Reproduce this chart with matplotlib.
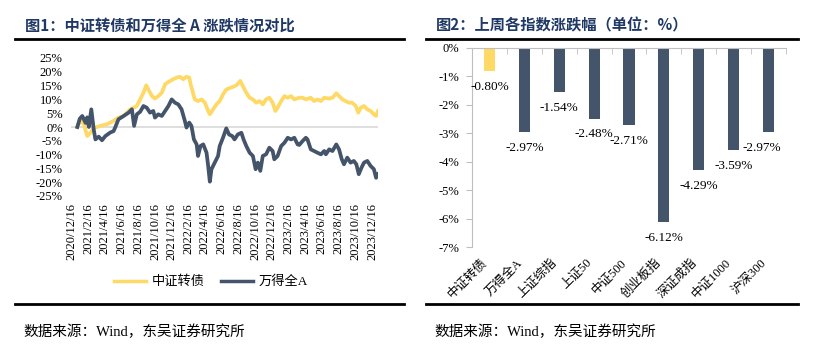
import numpy as np
import pandas as pd
import matplotlib.pyplot as plt
from matplotlib.lines import Line2D

# ---- figure 1: cumulative change, %
cb_dates = ['2021-01-06', '2021-01-18', '2021-01-30', '2021-02-11', '2021-02-23', '2021-03-07',
            '2021-03-19', '2021-03-31', '2021-04-24', '2021-05-18', '2021-06-05', '2021-06-24',
            '2021-07-18', '2021-08-11', '2021-08-23', '2021-09-04', '2021-09-14', '2021-09-22',
            '2021-10-05', '2021-10-16', '2021-10-28', '2021-11-10', '2021-11-22', '2021-12-04',
            '2021-12-16', '2022-01-03', '2022-01-15', '2022-01-27', '2022-02-08', '2022-02-18',
            '2022-02-23', '2022-03-02', '2022-03-10', '2022-03-22', '2022-04-04', '2022-04-16',
            '2022-04-28', '2022-05-04', '2022-05-16', '2022-05-28', '2022-06-09', '2022-06-21',
            '2022-07-03', '2022-07-21', '2022-08-09', '2022-08-23', '2022-09-01', '2022-09-14',
            '2022-09-26', '2022-10-08', '2022-10-20', '2022-11-01', '2022-11-13', '2022-11-25',
            '2022-12-07', '2022-12-19', '2022-12-29', '2023-01-06', '2023-01-19', '2023-01-31',
            '2023-02-12', '2023-02-24', '2023-03-08', '2023-03-26', '2023-04-07', '2023-04-19',
            '2023-05-07', '2023-05-19', '2023-05-31', '2023-06-13', '2023-06-25', '2023-07-13',
            '2023-07-25', '2023-08-08', '2023-08-18', '2023-08-30', '2023-09-11', '2023-09-23',
            '2023-10-05', '2023-10-18', '2023-10-27', '2023-11-05', '2023-11-17', '2023-11-29',
            '2023-12-11', '2023-12-23', '2023-12-31', '2024-01-07']
cb_values = [0.0, 2.5, 1.0, -3.3, -2.0, -0.5, 0.0, 0.4, 1.0, 2.2, 3.4, 4.0,
             6.4, 7.6, 10.0, 12.4, 15.1, 13.6, 11.2, 10.3, 11.2, 12.4, 15.5, 16.3,
             17.0, 17.9, 18.2, 17.3, 18.2, 17.9, 15.5, 13.0, 10.0, 9.4, 10.0, 8.8,
             5.8, 4.6, 6.4, 8.2, 9.4, 11.8, 13.6, 14.3, 15.1, 16.7, 14.9, 12.4,
             10.6, 10.0, 8.8, 9.4, 8.2, 10.0, 10.6, 8.8, 5.8, 7.0, 9.4, 11.2,
             10.6, 11.2, 10.0, 10.6, 10.6, 10.0, 10.6, 9.4, 10.0, 9.4, 10.6, 10.3,
             10.6, 12.2, 11.2, 10.0, 9.4, 8.8, 8.8, 7.6, 5.2, 7.0, 7.6, 6.4,
             5.8, 4.6, 4.0, 5.8]

wa_dates = ['2021-01-06', '2021-01-15', '2021-01-24', '2021-02-05', '2021-02-11', '2021-02-17',
            '2021-02-26', '2021-03-07', '2021-03-13', '2021-03-25', '2021-04-06', '2021-04-18',
            '2021-05-06', '2021-05-18', '2021-05-24', '2021-06-05', '2021-06-24', '2021-07-12',
            '2021-07-24', '2021-08-01', '2021-08-11', '2021-08-23', '2021-09-04', '2021-09-16',
            '2021-09-28', '2021-10-10', '2021-10-16', '2021-10-28', '2021-11-10', '2021-11-22',
            '2021-12-04', '2021-12-16', '2021-12-28', '2022-01-09', '2022-01-21', '2022-02-02',
            '2022-02-08', '2022-02-18', '2022-02-26', '2022-03-07', '2022-03-17', '2022-03-22',
            '2022-03-31', '2022-04-10', '2022-04-22', '2022-04-28', '2022-05-04', '2022-05-10',
            '2022-05-22', '2022-06-03', '2022-06-09', '2022-06-21', '2022-07-03', '2022-07-13',
            '2022-07-25', '2022-08-02', '2022-08-14', '2022-08-27', '2022-09-04', '2022-09-14',
            '2022-09-26', '2022-10-08', '2022-10-18', '2022-10-26', '2022-11-04', '2022-11-13',
            '2022-11-25', '2022-12-07', '2022-12-19', '2022-12-25', '2023-01-06', '2023-01-19',
            '2023-01-31', '2023-02-12', '2023-02-24', '2023-03-08', '2023-03-20', '2023-03-26',
            '2023-04-07', '2023-04-19', '2023-04-25', '2023-05-07', '2023-05-19', '2023-05-31',
            '2023-06-13', '2023-06-25', '2023-07-01', '2023-07-13', '2023-07-25', '2023-08-08',
            '2023-08-18', '2023-08-28', '2023-09-05', '2023-09-17', '2023-09-29', '2023-10-11',
            '2023-10-20', '2023-10-29', '2023-11-08', '2023-11-17', '2023-11-29', '2023-12-11',
            '2023-12-23', '2023-12-31', '2024-01-07']
wa_values = [0.0, 3.0, 4.0, 1.5, 3.5, 0.0, 6.4, -1.0, -4.5, -3.5, -4.8, -3.3,
             -2.0, -1.5, -0.2, 2.8, 4.0, 5.2, 6.4, 0.4, 4.6, 5.5, 7.6, 7.0,
             5.2, 5.8, 3.4, 4.6, 4.0, 5.8, 7.6, 10.0, 8.8, 8.2, 6.4, 2.2,
             -0.2, 1.6, 0.4, -4.5, -6.3, -10.5, -6.9, -6.3, -9.3, -14.1, -19.8, -15.3,
             -12.9, -10.5, -6.9, -3.9, -0.5, -2.7, -3.3, -4.5, -2.7, -2.1, -4.5, -6.9,
             -9.3, -10.5, -15.3, -12.9, -15.9, -10.5, -9.9, -7.5, -8.7, -11.7, -10.5, -6.9,
             -5.7, -3.9, -4.5, -3.9, -6.3, -6.5, -5.1, -3.9, -4.5, -8.1, -8.7, -9.3,
             -9.9, -8.7, -9.9, -8.1, -8.7, -6.3, -8.1, -11.7, -13.5, -11.1, -12.9, -12.3,
             -13.5, -17.1, -14.7, -12.9, -12.3, -14.1, -15.3, -18.4, -17.1]

date_ticks = ['2020/12/16', '2021/2/16', '2021/4/16', '2021/6/16', '2021/8/16', '2021/10/16',
              '2021/12/16', '2022/2/16', '2022/4/16', '2022/6/16', '2022/8/16', '2022/10/16',
              '2022/12/16', '2023/2/16', '2023/4/16', '2023/6/16', '2023/8/16', '2023/10/16',
              '2023/12/16']

# ---- figure 2: last week change, %
index_names = ['中证转债', '万得全A', '上证综指', '上证50', '中证500',
               '创业板指', '深证成指', '中证1000', '沪深300']
index_changes = [-0.80, -2.97, -1.54, -2.48, -2.71, -6.12, -4.29, -3.59, -2.97]

YELLOW = '#FFD966'
SLATE = '#44546A'
NAVY = '#1F3864'
GRID = '#D9D9D9'
SPINE = '#BFBFBF'

plt.rcParams['font.family'] = ['Liberation Serif', 'Noto Sans CJK SC']

W, H = 827, 348
fig = plt.figure(figsize=(W / 100, H / 100), dpi=100)


def fx(px):
    return px / W


def fy(py):
    return 1 - py / H


# titles and rules
title_font = dict(family=['Noto Sans CJK SC'], fontsize=11, fontweight='bold', color=NAVY, va='center')
fig.text(fx(25), fy(25), '图1：中证转债和万得全 A 涨跌情况对比', **title_font)
fig.text(fx(436), fy(25), '图2：上周各指数涨跌幅（单位：%）', **title_font)
for x0, x1 in [(15, 404), (426, 798)]:
    fig.add_artist(Line2D([fx(x0), fx(x1)], [fy(39)] * 2, color='black', lw=2))
    fig.add_artist(Line2D([fx(x0), fx(x1)], [fy(304)] * 2, color='black', lw=2))
fig.text(fx(23), fy(332), '数据来源：Wind，东吴证券研究所', fontsize=10.5, va='center')
fig.text(fx(434), fy(332), '数据来源：Wind，东吴证券研究所', fontsize=10.5, va='center')

# left chart
ax1 = fig.add_axes([fx(71), fy(196), fx(378) - fx(71), fy(58) - fy(196)])
ax1.axhline(0, color=GRID, lw=1.2, zorder=1)
ax1.plot(pd.to_datetime(cb_dates), cb_values, color=YELLOW, lw=2.7, zorder=2)
ax1.plot(pd.to_datetime(wa_dates), wa_values, color=SLATE, lw=2.7, zorder=3)
ax1.set_ylim(-25, 25)
ax1.set_yticks(range(-25, 30, 5))
ax1.set_yticklabels([f'{v}%' for v in range(-25, 30, 5)], fontsize=9)
ax1.set_xlim(pd.Timestamp('2020-12-14'), pd.Timestamp('2024-01-07'))
ax1.set_xticks(pd.to_datetime(date_ticks, format='%Y/%m/%d'))
ax1.set_xticklabels(date_ticks, rotation=90, fontsize=9, va='top', ha='center')
ax1.tick_params(axis='y', length=0, pad=6)
ax1.tick_params(axis='x', length=0, pad=5)
for s in ax1.spines.values():
    s.set_visible(False)

handles = [Line2D([], [], color=YELLOW, lw=2.5), Line2D([], [], color=SLATE, lw=2.5)]
fig.legend(handles, ['中证转债', '万得全A'], loc='center', bbox_to_anchor=(fx(211), fy(282)),
           ncol=2, frameon=False, fontsize=9.5, handlelength=2.4, handletextpad=0.4,
           columnspacing=1.3)

# right chart
ax2 = fig.add_axes([fx(472), fy(247), fx(786) - fx(472), fy(48) - fy(247)])
pos = np.arange(len(index_names))
ax2.bar(pos, index_changes, width=0.32, color=[YELLOW] + [SLATE] * (len(pos) - 1), zorder=2)
for i, v in zip(pos, index_changes):
    # the last label is pushed left to stay inside the plot area
    dx = -5 if i == pos[-1] else 0
    ax2.annotate(f'{v:.2f}%', (i, v), xytext=(dx, -11.5), textcoords='offset points',
                 ha='center', va='center', fontsize=9.5)
ax2.set_xlim(-0.5, len(pos) - 0.5)
ax2.set_ylim(-7, 0)
ax2.set_yticks(range(-7, 1))
ax2.set_yticklabels([f'{v}%' for v in range(-7, 1)], fontsize=9)
ax2.set_xticks(pos)
ax2.set_xticklabels(index_names, rotation=45, ha='right', va='top', fontsize=9)
ax2.set_xticks(np.arange(-0.5, len(pos), 1), minor=True)
ax2.tick_params(axis='x', which='major', length=0, pad=7)
ax2.tick_params(axis='x', which='minor', bottom=False, top=True, direction='in', length=4, color=SPINE)
ax2.tick_params(axis='y', length=4, color=SPINE, pad=5)
for side in ['right', 'bottom']:
    ax2.spines[side].set_visible(False)
for side in ['left', 'top']:
    ax2.spines[side].set_color(SPINE)

plt.savefig('out.png', dpi=100)
